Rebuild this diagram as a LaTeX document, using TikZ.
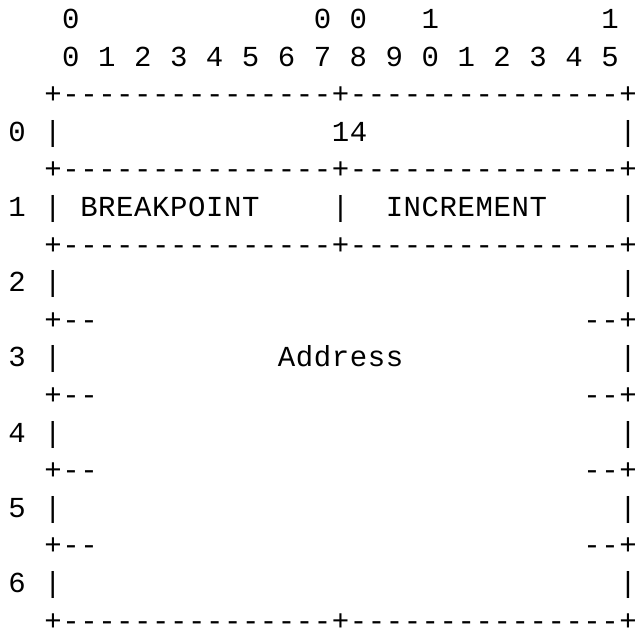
\documentclass[tikz,border=0pt]{standalone}
\usepackage{fontspec}
\newfontfamily\artmono[Ligatures=TeXOff,LetterSpace=1.97]{Liberation Mono}
\newcommand{\ch}[1]{\makebox[0pt]{#1}}

\tikzset{
  art/.style={font=\artmono\fontsize{14.5pt}{14.5pt}\selectfont,
    inner sep=0pt, anchor=base},
  artrun/.style={art, anchor=base west},
}

\begin{document}
\begin{tikzpicture}[x=8.985pt,y=-18.8pt]
  \useasboundingbox (-0.946,-0.758) rectangle (34.391,16.023);
  % Bit numbers
  \node[art] (tens-0) at (3,0) {0};
  \node[art] (tens-7) at (17,0) {0};
  \node[art] (tens-8) at (19,0) {0};
  \node[art] (tens-10) at (23,0) {1};
  \node[art] (tens-15) at (33,0) {1};
  \foreach \b in {0,...,15} {
    \pgfmathtruncatemacro{\u}{mod(\b,10)}
    \node[art] (bit-\b) at (3+2*\b,1) {\u};
  }
  % Word numbers and side bars
  \foreach \w in {0,...,6} {
    \node[art] (word-\w) at (0,3+2*\w) {\w};
    \node[art] (left-\w) at (2,3+2*\w) {\ch{|}};
    \node[art] (right-\w) at (34,3+2*\w) {\ch{|}};
  }
  % Full rules
  \foreach \r/\n in {2/top,4/mid,6/low,16/bottom} {
    \node[artrun] (rule-\n) at (1.5,\r) {+---------------+---------------};
    \node[art] (corner-\n) at (34,\r) {\ch{+}};
  }
  % Broken rules round the address
  \foreach \r in {8,10,12,14} {
    \node[artrun] (cut-l-\r) at (1.5,\r) {+--};
    \node[artrun] (cut-r-\r) at (31.5,\r) {--};
    \node[art] (cut-c-\r) at (34,\r) {\ch{+}};
  }
  % Fields
  \node[artrun] (length) at (17.5,3) {14};
  \node[artrun] (breakpoint) at (3.5,5) {BREAKPOINT};
  \node[art] (split) at (18,5) {|};
  \node[artrun] (increment) at (20.5,5) {INCREMENT};
  \node[artrun] (address) at (14.5,9) {Address};
\end{tikzpicture}
\end{document}
